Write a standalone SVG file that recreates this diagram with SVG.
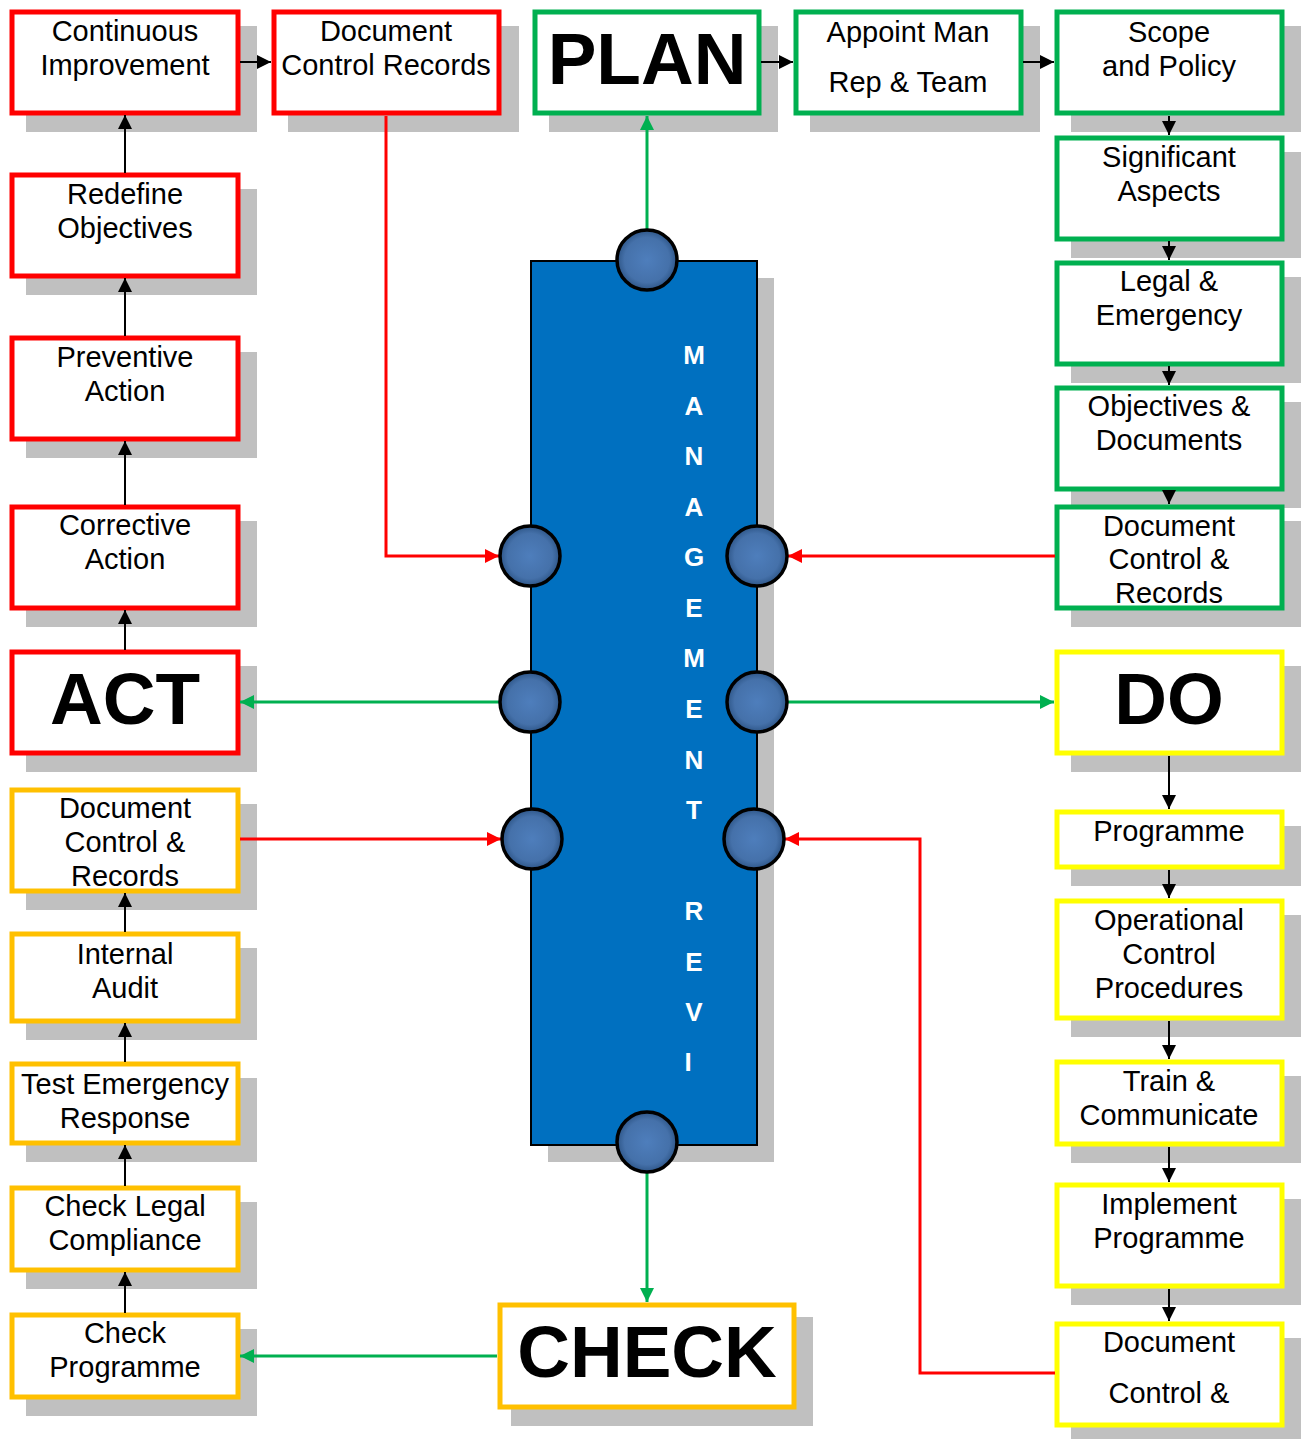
<svg xmlns="http://www.w3.org/2000/svg" width="1302" height="1439" viewBox="0 0 1302 1439">
<style>
.sh{fill:#C0C0C0}
.bx{fill:#fff;stroke-width:5}
.r{stroke:#FF0000}.g{stroke:#00B050}.y{stroke:#FFFF00}.o{stroke:#FFC000}
.t{font-family:"Liberation Sans",Arial,sans-serif;font-size:29px;fill:#000;text-anchor:middle}
.big{font-family:"Liberation Sans",Arial,sans-serif;font-size:73px;font-weight:bold;fill:#000;text-anchor:middle}
.v{font-family:"Liberation Sans",Arial,sans-serif;font-size:26px;font-weight:bold;fill:#fff;text-anchor:middle}
.cb{fill:none;stroke:#000;stroke-width:2}
.cr{fill:none;stroke:#FF0000;stroke-width:3}
.cg{fill:none;stroke:#00B050;stroke-width:3}
.dot{fill:url(#dg);stroke:#000;stroke-width:3.5}
</style>
<defs>
<radialGradient id="dg" cx="50%" cy="50%" r="50%">
<stop offset="0" stop-color="#4E7EBC"/>
<stop offset="0.75" stop-color="#4571AA"/>
<stop offset="1" stop-color="#2E5688"/>
</radialGradient>
<marker id="ab" markerUnits="userSpaceOnUse" markerWidth="16" markerHeight="14" refX="14" refY="7" orient="auto"><path d="M0,0 L14,7 L0,14 Z" fill="#000"/></marker>
<marker id="ar" markerUnits="userSpaceOnUse" markerWidth="16" markerHeight="14" refX="14" refY="7" orient="auto"><path d="M0,0 L14,7 L0,14 Z" fill="#FF0000"/></marker>
<marker id="ag" markerUnits="userSpaceOnUse" markerWidth="16" markerHeight="14" refX="14" refY="7" orient="auto"><path d="M0,0 L14,7 L0,14 Z" fill="#00B050"/></marker>
</defs>

<g id="mgmt">
<rect class="sh" x="548" y="278" width="226" height="884"/>
<rect x="531" y="261" width="226" height="884" fill="#0070C0" stroke="#000" stroke-width="2"/>
<text class="v" x="694" y="364">M</text>
<text class="v" x="694" y="415">A</text>
<text class="v" x="694" y="465">N</text>
<text class="v" x="694" y="516">A</text>
<text class="v" x="694" y="566">G</text>
<text class="v" x="694" y="617">E</text>
<text class="v" x="694" y="667">M</text>
<text class="v" x="694" y="718">E</text>
<text class="v" x="694" y="769">N</text>
<text class="v" x="694" y="819">T</text>
<text class="v" x="694" y="920">R</text>
<text class="v" x="694" y="971">E</text>
<text class="v" x="694" y="1021">V</text>
<text class="v" x="688" y="1071">I</text>
</g>

<g id="continuous-improvement"><rect class="sh" x="26" y="26" width="231" height="106"/><rect class="bx r" x="12" y="12" width="226" height="101"/><text class="t" x="125" y="41">Continuous</text><text class="t" x="125" y="75">Improvement</text></g>
<g id="doc-control-records"><rect class="sh" x="288" y="26" width="231" height="106"/><rect class="bx r" x="274" y="12" width="225" height="101"/><text class="t" x="386" y="41">Document</text><text class="t" x="386" y="75">Control Records</text></g>
<g id="plan"><rect class="sh" x="549" y="26" width="229" height="106"/><rect class="bx g" x="535" y="12" width="224" height="101"/><text class="big" x="647" y="84">PLAN</text></g>
<g id="appoint"><rect class="sh" x="810" y="26" width="230" height="106"/><rect class="bx g" x="796" y="12" width="225" height="101"/><text class="t" x="908" y="42">Appoint Man</text><text class="t" x="908" y="92">Rep &amp; Team</text></g>
<g id="scope"><rect class="sh" x="1071" y="26" width="230" height="106"/><rect class="bx g" x="1057" y="12" width="225" height="101"/><text class="t" x="1169" y="42">Scope</text><text class="t" x="1169" y="76">and Policy</text></g>
<g id="significant"><rect class="sh" x="1071" y="152" width="230" height="106"/><rect class="bx g" x="1057" y="138" width="225" height="101"/><text class="t" x="1169" y="167">Significant</text><text class="t" x="1169" y="201">Aspects</text></g>
<g id="legal"><rect class="sh" x="1071" y="277" width="230" height="106"/><rect class="bx g" x="1057" y="263" width="225" height="101"/><text class="t" x="1169" y="291">Legal &amp;</text><text class="t" x="1169" y="325">Emergency</text></g>
<g id="objectives"><rect class="sh" x="1071" y="402" width="230" height="106"/><rect class="bx g" x="1057" y="388" width="225" height="101"/><text class="t" x="1169" y="416">Objectives &amp;</text><text class="t" x="1169" y="450">Documents</text></g>
<g id="doc-control-green"><rect class="sh" x="1071" y="521" width="230" height="106"/><rect class="bx g" x="1057" y="507" width="225" height="101"/><text class="t" x="1169" y="536">Document</text><text class="t" x="1169" y="569">Control &amp;</text><text class="t" x="1169" y="603">Records</text></g>
<g id="do"><rect class="sh" x="1071" y="666" width="230" height="106"/><rect class="bx y" x="1057" y="652" width="225" height="101"/><text class="big" x="1169" y="724">DO</text></g>
<g id="programme"><rect class="sh" x="1071" y="826" width="230" height="60"/><rect class="bx y" x="1057" y="812" width="225" height="55"/><text class="t" x="1169" y="841">Programme</text></g>
<g id="operational"><rect class="sh" x="1071" y="915" width="230" height="122"/><rect class="bx y" x="1057" y="901" width="225" height="117"/><text class="t" x="1169" y="930">Operational</text><text class="t" x="1169" y="964">Control</text><text class="t" x="1169" y="998">Procedures</text></g>
<g id="train"><rect class="sh" x="1071" y="1076" width="230" height="87"/><rect class="bx y" x="1057" y="1062" width="225" height="82"/><text class="t" x="1169" y="1091">Train &amp;</text><text class="t" x="1169" y="1125">Communicate</text></g>
<g id="implement"><rect class="sh" x="1071" y="1199" width="230" height="106"/><rect class="bx y" x="1057" y="1185" width="225" height="101"/><text class="t" x="1169" y="1214">Implement</text><text class="t" x="1169" y="1248">Programme</text></g>
<g id="doc-control-yellow"><rect class="sh" x="1071" y="1338" width="230" height="101"/><rect class="bx y" x="1057" y="1324" width="225" height="101"/><text class="t" x="1169" y="1352">Document</text><text class="t" x="1169" y="1403">Control &amp;</text></g>

<g id="redefine"><rect class="sh" x="26" y="189" width="231" height="106"/><rect class="bx r" x="12" y="175" width="226" height="101"/><text class="t" x="125" y="204">Redefine</text><text class="t" x="125" y="238">Objectives</text></g>
<g id="preventive"><rect class="sh" x="26" y="352" width="231" height="106"/><rect class="bx r" x="12" y="338" width="226" height="101"/><text class="t" x="125" y="367">Preventive</text><text class="t" x="125" y="401">Action</text></g>
<g id="corrective"><rect class="sh" x="26" y="521" width="231" height="106"/><rect class="bx r" x="12" y="507" width="226" height="101"/><text class="t" x="125" y="535">Corrective</text><text class="t" x="125" y="569">Action</text></g>
<g id="act"><rect class="sh" x="26" y="666" width="231" height="106"/><rect class="bx r" x="12" y="652" width="226" height="101"/><text class="big" x="125" y="724">ACT</text></g>
<g id="doc-control-orange"><rect class="sh" x="26" y="804" width="231" height="106"/><rect class="bx o" x="12" y="790" width="226" height="101"/><text class="t" x="125" y="818">Document</text><text class="t" x="125" y="852">Control &amp;</text><text class="t" x="125" y="886">Records</text></g>
<g id="internal-audit"><rect class="sh" x="26" y="948" width="231" height="92"/><rect class="bx o" x="12" y="934" width="226" height="87"/><text class="t" x="125" y="964">Internal</text><text class="t" x="125" y="998">Audit</text></g>
<g id="test-emergency"><rect class="sh" x="26" y="1078" width="231" height="84"/><rect class="bx o" x="12" y="1064" width="226" height="79"/><text class="t" x="125" y="1094">Test Emergency</text><text class="t" x="125" y="1128">Response</text></g>
<g id="check-legal"><rect class="sh" x="26" y="1202" width="231" height="87"/><rect class="bx o" x="12" y="1188" width="226" height="82"/><text class="t" x="125" y="1216">Check Legal</text><text class="t" x="125" y="1250">Compliance</text></g>
<g id="check-programme"><rect class="sh" x="26" y="1329" width="231" height="87"/><rect class="bx o" x="12" y="1315" width="226" height="82"/><text class="t" x="125" y="1343">Check</text><text class="t" x="125" y="1377">Programme</text></g>
<g id="check"><rect class="sh" x="511" y="1317" width="302" height="109"/><rect class="bx o" x="500" y="1305" width="294" height="102"/><text class="big" x="647" y="1377">CHECK</text></g>

<g id="connectors">
<line class="cb" x1="240" y1="62" x2="271" y2="62" marker-end="url(#ab)"/>
<line class="cb" x1="761" y1="62" x2="793" y2="62" marker-end="url(#ab)"/>
<line class="cb" x1="1023" y1="62" x2="1054" y2="62" marker-end="url(#ab)"/>
<line class="cb" x1="1169" y1="116" x2="1169" y2="135" marker-end="url(#ab)"/>
<line class="cb" x1="1169" y1="241" x2="1169" y2="260" marker-end="url(#ab)"/>
<line class="cb" x1="1169" y1="366" x2="1169" y2="385" marker-end="url(#ab)"/>
<line class="cb" x1="1169" y1="490" x2="1169" y2="504" marker-end="url(#ab)"/>
<line class="cb" x1="1169" y1="756" x2="1169" y2="809" marker-end="url(#ab)"/>
<line class="cb" x1="1169" y1="870" x2="1169" y2="898" marker-end="url(#ab)"/>
<line class="cb" x1="1169" y1="1021" x2="1169" y2="1059" marker-end="url(#ab)"/>
<line class="cb" x1="1169" y1="1147" x2="1169" y2="1182" marker-end="url(#ab)"/>
<line class="cb" x1="1169" y1="1289" x2="1169" y2="1321" marker-end="url(#ab)"/>
<line class="cb" x1="125" y1="173" x2="125" y2="115" marker-end="url(#ab)"/>
<line class="cb" x1="125" y1="336" x2="125" y2="278" marker-end="url(#ab)"/>
<line class="cb" x1="125" y1="505" x2="125" y2="441" marker-end="url(#ab)"/>
<line class="cb" x1="125" y1="650" x2="125" y2="610" marker-end="url(#ab)"/>
<line class="cb" x1="125" y1="932" x2="125" y2="893" marker-end="url(#ab)"/>
<line class="cb" x1="125" y1="1062" x2="125" y2="1023" marker-end="url(#ab)"/>
<line class="cb" x1="125" y1="1186" x2="125" y2="1145" marker-end="url(#ab)"/>
<line class="cb" x1="125" y1="1313" x2="125" y2="1272" marker-end="url(#ab)"/>
<line class="cg" x1="647" y1="230" x2="647" y2="116" marker-end="url(#ag)"/>
<line class="cg" x1="647" y1="1172" x2="647" y2="1302" marker-end="url(#ag)"/>
<line class="cg" x1="500" y1="702" x2="240" y2="702" marker-end="url(#ag)"/>
<line class="cg" x1="788" y1="702" x2="1054" y2="702" marker-end="url(#ag)"/>
<line class="cg" x1="497" y1="1356" x2="240" y2="1356" marker-end="url(#ag)"/>
<polyline class="cr" points="386,116 386,556 499,556" marker-end="url(#ar)"/>
<line class="cr" x1="1055" y1="556" x2="788" y2="556" marker-end="url(#ar)"/>
<line class="cr" x1="240" y1="839" x2="501" y2="839" marker-end="url(#ar)"/>
<polyline class="cr" points="1055,1373 920,1373 920,839 785,839" marker-end="url(#ar)"/>
</g>

<g id="dots">
<circle class="dot" cx="647" cy="260" r="30"/>
<circle class="dot" cx="530" cy="556" r="30"/>
<circle class="dot" cx="757" cy="556" r="30"/>
<circle class="dot" cx="530" cy="702" r="30"/>
<circle class="dot" cx="757" cy="702" r="30"/>
<circle class="dot" cx="532" cy="839" r="30"/>
<circle class="dot" cx="754" cy="839" r="30"/>
<circle class="dot" cx="647" cy="1142" r="30"/>
</g>
</svg>
